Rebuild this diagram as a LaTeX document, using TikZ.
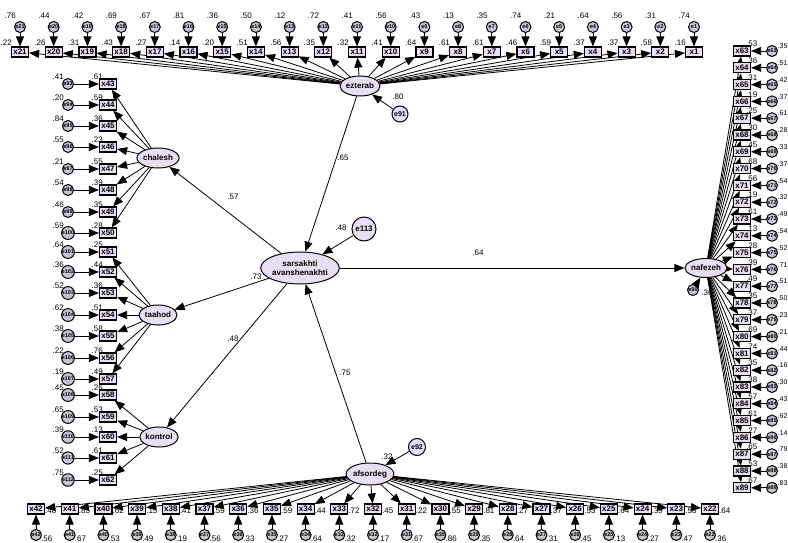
\documentclass[tikz,border=0pt]{standalone}
\usepackage{fontspec}
\setmainfont{Liberation Sans}
\usetikzlibrary{arrows.meta,shapes.geometric}
\definecolor{lav}{RGB}{232,224,242}
\pgfdeclarelayer{bg}
\pgfsetlayers{bg,main}
\begin{document}
\begin{tikzpicture}[x=1pt,y=-1pt,
  obs/.style={draw,line width=1.2pt,fill=lav,minimum width=17pt,minimum height=10pt,inner sep=0.5pt,font=\fontsize{8}{8}\selectfont\bfseries},
  err/.style={draw,circle,line width=1pt,fill=lav!70!gray,minimum size=11pt,inner sep=0pt,font=\fontsize{5.5}{5.5}\selectfont\bfseries},
  lat/.style={draw,ellipse,line width=1pt,fill=lav,inner sep=0pt,font=\fontsize{8}{9}\selectfont\bfseries},
  val/.style={inner sep=0pt,font=\fontsize{8}{8}\selectfont},
  arr/.style={-{Triangle[length=10pt,width=8pt]},line width=0.8pt},
]
\useasboundingbox (0,0) rectangle (788,543);
\clip (0,0) rectangle (788,543);

% latent variables
\node[lat,minimum width=40pt,minimum height=20pt] (ez) at (360,86) {ezterab};
\node[lat,minimum width=42pt,minimum height=22pt] (af) at (370,474) {afsordeg};
\node[lat,minimum width=60pt,minimum height=32pt,align=center] (sa) at (300,268) {sarsakhti\\avanshenakhti};
\node[lat,minimum width=38pt,minimum height=20pt] (ch) at (158,158) {chalesh};
\node[lat,minimum width=38pt,minimum height=20pt] (ta) at (158,315) {taahod};
\node[lat,minimum width=38pt,minimum height=20pt] (ko) at (159,437) {kontrol};
\node[lat,minimum width=36pt,minimum height=19pt] (na) at (706,268) {nafezeh};

% disturbances of the latent variables
\node[err,fill=lav,minimum size=16pt,font=\fontsize{7}{7}\selectfont\bfseries] (e91) at (400,114) {e91};
\node[err,fill=lav,minimum size=17pt,font=\fontsize{7}{7}\selectfont\bfseries] (e92) at (417,447) {e92};
\node[err,fill=lav,minimum size=24pt,font=\fontsize{8}{8}\selectfont\bfseries] (e113) at (364,229) {e113};
\node[err] (e90) at (693,290) {e90};
\draw[arr] (e91) -- (ez);
\draw[arr] (e92) -- (af);
\draw[arr] (e113) -- (sa);
\draw[arr] (e90) -- (na);
\node[val] at (398,97) {.80};
\node[val] at (387,457) {.32};
\node[val] at (341,228) {.48};
\node[val] at (707,293) {.36};

% structural paths
\draw[arr] (ez) -- (sa);
\draw[arr] (af) -- (sa);
\draw[arr] (sa) -- (ch);
\draw[arr] (sa) -- (ta);
\draw[arr] (sa) -- (ko);
\draw[arr] (sa) -- (na);
\node[val] at (343,158) {.65};
\node[val] at (345,373) {.75};
\node[val] at (233,197) {.57};
\node[val] at (256,277) {.73};
\node[val] at (233,339) {.48};
\node[val] at (478,253) {.64};

% top row: indicators of ezterab
\foreach \i/\u/\l in {1/.74/.16, 2/.31/.58, 3/.56/.37, 4/.64/.37, 5/.21/.59, 6/.74/.46, 7/.35/.61,
  8/.13/.61, 9/.43/.64, 10/.56/.41, 11/.41/.32, 12/.72/.35, 13/.12/.56, 14/.50/.51, 15/.36/.20,
  16/.81/.14, 17/.67/.27, 18/.69/.43, 19/.42/.31, 20/.44/.26, 21/.76/.22}{
  \pgfmathsetmacro\cx{694-(\i-1)*33.7}
  \node[obs] (x\i) at (\cx,52) {x\i};
  \node[err] (e\i) at (\cx,27) {e\i};
  \draw[arr] (e\i) -- (x\i);
  \node[val,anchor=east] at (\cx-4,16) {\u};
  \node[val,anchor=east] at (\cx-8,43) {\l};
  \begin{pgfonlayer}{bg}\draw[arr] (ez) -- (x\i);\end{pgfonlayer}
}

% bottom row: indicators of afsordeg
\foreach \i/\u/\l in {22/.64/.36, 23/.58/.47, 24/.39/.27, 25/.64/.13, 26/.53/.45, 27/.37/.31,
  28/.27/.64, 29/.81/.35, 30/.55/.86, 31/.22/.67, 32/.45/.17, 33/.72/.32, 34/.44/.64, 35/.59/.27,
  36/.36/.33, 37/.59/.56, 38/.41/.19, 39/.15/.49, 40/.62/.53, 41/.85/.67, 42/.48/.56}{
  \pgfmathsetmacro\cx{710-(\i-22)*33.7}
  \node[obs] (x\i) at (\cx,509) {x\i};
  \node[err] (e\i) at (\cx,535) {e\i};
  \draw[arr] (e\i) -- (x\i);
  \node[val,anchor=west] at (\cx+9,511) {\u};
  \node[val,anchor=west] at (\cx+5,539) {\l};
  \begin{pgfonlayer}{bg}\draw[arr] (af) -- (x\i);\end{pgfonlayer}
}

% left column: indicators of chalesh, taahod and kontrol
\foreach \i/\y/\u/\l [count=\k from 93] in {43/84/.41/.61, 44/105/.20/.59, 45/126/.84/.36,
  46/147/.55/.23, 47/169/.21/.55, 48/190/.54/.39, 49/212/.46/.35, 50/233/.59/.28, 51/252/.64/.25,
  52/272/.36/.44, 53/293/.52/.36, 54/315/.62/.51, 55/336/.38/.58, 56/358/.22/.76, 57/379/.19/.49,
  58/395/.45/.26, 59/417/.65/.53, 60/437/.39/.13, 61/458/.52/.61, 62/480/.75/.25}{
  \node[obs] (x\i) at (108,\y) {x\i};
  \node[err] (e\i) at (68,\y) {e\k};
  \draw[arr] (e\i) -- (x\i);
  \node[val,anchor=south east] at (64,\y-4) {\u};
  \node[val,anchor=south east] at (103,\y-4) {\l};
}
\begin{pgfonlayer}{bg}
\foreach \i in {43,...,50}{\draw[arr] (ch) -- (x\i);}
\foreach \i in {51,...,57}{\draw[arr] (ta) -- (x\i);}
\foreach \i in {58,...,62}{\draw[arr] (ko) -- (x\i);}
\end{pgfonlayer}

% right column: indicators of nafezeh
\foreach \i/\u/\r in {63/.53/.35, 64/.36/.51, 65/.31/.42, 66/.19/.37, 67/.25/.61, 68/.30/.28,
  69/.45/.33, 70/.68/.37, 71/.56/.54, 72/.19/.32, 73/.61/.49, 74/.13/.54, 75/.28/.52, 76/.39/.71,
  77/.49/.51, 78/.35/.50, 79/.37/.23, 80/.69/.21, 81/.74/.44, 82/.35/.16, 83/.38/.30, 84/.57/.43,
  85/.61/.62, 86/.27/.14, 87/.65/.79, 88/.53/.38, 89/.67/.83}{
  \pgfmathsetmacro\cy{51+16.8*(\i-63)}
  \node[obs] (x\i) at (742,\cy) {x\i};
  \node[err] (e\i) at (772,\cy) {e\i};
  \draw[arr] (e\i) -- (x\i);
  \node[val,anchor=south west] at (746,\cy-4) {\u};
  \node[val,anchor=south west,font=\fontsize{7}{7}\selectfont] at (777.5,\cy-2) {\r};
  \begin{pgfonlayer}{bg}\draw[arr] (na) -- (x\i);\end{pgfonlayer}
}
\end{tikzpicture}
\end{document}
